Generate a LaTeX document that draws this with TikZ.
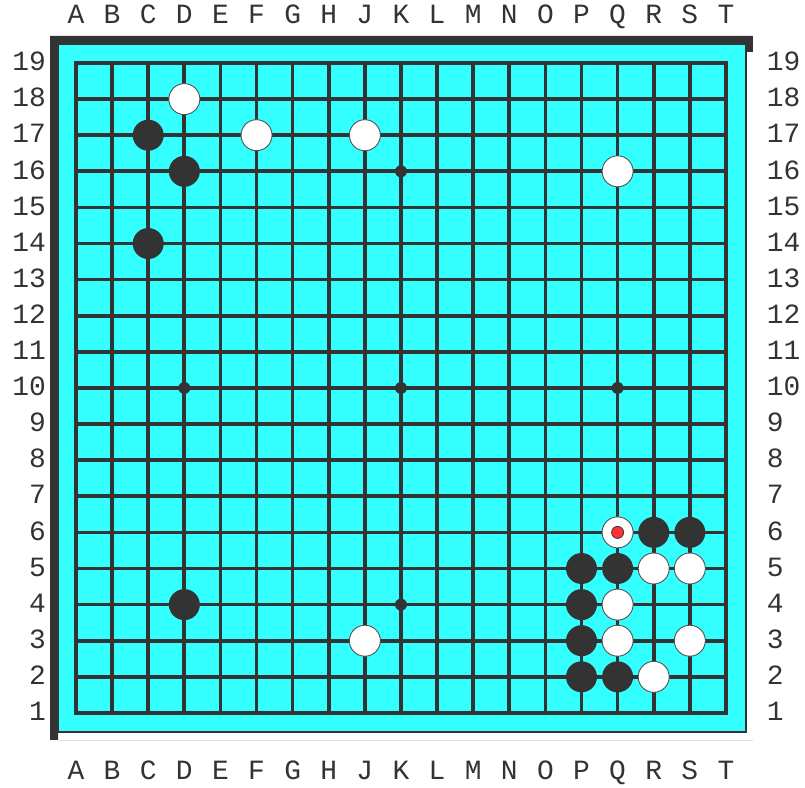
\documentclass[tikz,border=0pt]{standalone}
\usepackage{fontspec}
\newfontfamily\coordfont{Liberation Mono}
\definecolor{boardcyan}{RGB}{51,255,255}
\definecolor{ink}{RGB}{51,51,51}
\definecolor{lastred}{RGB}{255,51,51}

\begin{document}
\begin{tikzpicture}[x=36.111bp, y=36.111bp,
    gridline/.style={draw=ink, line width=3.7bp},
    bstone/.style={circle, fill=ink, minimum size=31bp, inner sep=0pt},
    wstone/.style={circle, fill=white, draw=ink!85, line width=0.9bp, minimum size=31bp, inner sep=0pt},
    hoshi/.style={circle, fill=ink, minimum size=12bp, inner sep=0pt},
    lab/.style={font=\coordfont\fontsize{28}{28}\selectfont, text=ink, inner sep=0pt}]
  \useasboundingbox (-2.105,-2.077) rectangle (20.19,19.745);
  % board frame
  \fill[ink] (-0.720,-0.748) -- (-0.720,18.748) -- (18.748,18.748) -- (18.748,18.305)
    -- (18.554,18.305) -- (18.554,18.526) -- (-0.498,18.526) -- (-0.498,-0.748) -- cycle;
  \draw[ink, line width=2bp, fill=boardcyan] (-0.498,-0.526) rectangle (18.554,18.526);
  \draw[black!12, line width=0.8bp] (-0.498,-0.748) -- (18.748,-0.748);
  % grid
  \foreach \i in {1,...,17} {
    \draw[gridline] (\i,0) -- (\i,18);
    \draw[gridline] (0,\i) -- (18,\i);
  }
  \draw[gridline] (0,0) rectangle (18,18);
  \foreach \x in {3,9,15}
    \foreach \y in {3,9,15}
      \node[hoshi] (star\x\y) at (\x,\y) {};
  % coordinates
  \foreach \c [count=\i from 0] in {A,B,C,D,E,F,G,H,J,K,L,M,N,O,P,Q,R,S,T} {
    \node[lab, anchor=base] (top\c) at (\i,19.10) {\c};
    \node[lab, anchor=base] (bot\c) at (\i,-1.855) {\c};
  }
  \foreach \n in {1,...,19} {
    \node[lab, anchor=base east] (left\n) at (-0.83,{\n-1.213}) {\n};
    \node[lab, anchor=base west] (right\n) at (19.13,{\n-1.213}) {\n};
  }
  % stones
  \foreach \x/\y/\n in {2/16/C17, 3/15/D16, 2/13/C14, 3/3/D4, 14/4/P5, 15/4/Q5,
      14/3/P4, 14/2/P3, 14/1/P2, 15/1/Q2, 16/5/R6, 17/5/S6}
    \node[bstone] (\n) at (\x,\y) {};
  \foreach \x/\y/\n in {3/17/D18, 5/16/F17, 8/16/J17, 15/15/Q16, 8/2/J3, 15/5/Q6,
      16/4/R5, 17/4/S5, 15/3/Q4, 15/2/Q3, 17/2/S3, 16/1/R2}
    \node[wstone] (\n) at (\x,\y) {};
  \node[circle, fill=lastred, draw=ink, line width=0.8bp, minimum size=12bp, inner sep=0pt] (lastmove) at (Q6) {};
\end{tikzpicture}
\end{document}
